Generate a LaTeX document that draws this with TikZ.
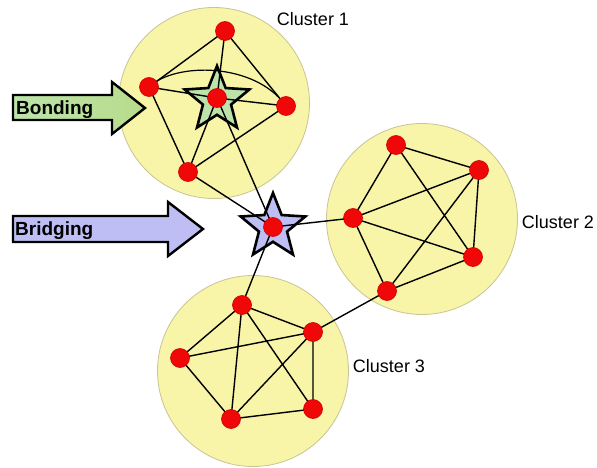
\documentclass[tikz,border=0pt]{standalone}
\usepackage{fontspec}
\setmainfont{Liberation Sans}
\usetikzlibrary{shapes.geometric}
\definecolor{clfill}{RGB}{248,244,168}
\definecolor{cldraw}{RGB}{200,196,150}
\definecolor{dotred}{RGB}{240,8,8}
\definecolor{dotedge}{RGB}{205,0,0}
\definecolor{bondgreen}{RGB}{188,228,170}
\definecolor{bondhead}{RGB}{184,220,140}
\definecolor{bridgeblue}{RGB}{190,190,245}
\begin{document}
\begin{tikzpicture}[x=1pt,y=-1pt,
  cluster/.style={circle, fill=clfill, draw=cldraw, line width=0.8pt, minimum size=191pt, inner sep=0pt},
  dot/.style={circle, fill=dotred, draw=dotedge, line width=0.6pt, minimum size=19pt, inner sep=0pt},
  edge/.style={line width=1.4pt, draw=black},
  starbox/.style={star, star points=5, star point ratio=2.3, minimum size=68pt, inner sep=0pt, line width=2.6pt, draw=black},
  lbl/.style={font=\fontsize{18}{18}\selectfont, inner sep=0pt},
  arrowlbl/.style={font=\fontsize{19}{19}\selectfont\bfseries, inner sep=0pt, anchor=base west},
  bigarrow/.style={line width=2.4pt, draw=black, line join=miter}]
\useasboundingbox (0,0) rectangle (597,468);

% cluster discs
\node[cluster] (k1) at (214,103) {};
\node[cluster] (k2) at (422,219) {};
\node[cluster] (k3) at (253,371) {};

% stars
\node[starbox, fill=bondgreen] (s1) at (217,100) {};
\node[starbox, fill=bridgeblue] (s2) at (273,227) {};

% big arrows
\path[bigarrow, left color=bondgreen, right color=bondhead]
  (13,95) -- (112,95) -- (112,82) -- (145,108) -- (112,134) -- (112,120) -- (13,120) -- cycle;
\path[bigarrow, fill=bridgeblue]
  (13,216) -- (168,216) -- (168,202) -- (203,229) -- (168,256) -- (168,242) -- (13,242) -- cycle;
\node[arrowlbl] (tbond) at (16,115) {Bonding};
\node[arrowlbl] (tbridge) at (15,235) {Bridging};

% dot coordinates
\coordinate (a1) at (225,31);
\coordinate (b1) at (149,87);
\coordinate (c1) at (217,98);
\coordinate (d1) at (286,106);
\coordinate (e1) at (188,172);
\coordinate (br) at (273,227);
\coordinate (a2) at (396,145);
\coordinate (b2) at (479,170);
\coordinate (c2) at (353,218);
\coordinate (d2) at (473,257);
\coordinate (e2) at (387,291);
\coordinate (a3) at (242,305);
\coordinate (b3) at (313,332);
\coordinate (c3) at (180,358);
\coordinate (d3) at (231,419);
\coordinate (e3) at (313,409);

% edges
\draw[edge] (a1) -- (b1) (a1) -- (c1) (a1) -- (d1) (b1) -- (c1) (c1) -- (d1)
            (b1) -- (e1) (c1) -- (e1) (d1) -- (e1);
\draw[edge, line width=1.2pt] (b1) .. controls (175,62) and (255,62) .. (d1);
\draw[edge] (c1) -- (br) (e1) -- (br) (br) -- (c2) (br) -- (a3) (e2) -- (b3);
\draw[edge] (a2) -- (b2) (a2) -- (c2) (a2) -- (d2) (b2) -- (c2) (b2) -- (d2)
            (b2) -- (e2) (c2) -- (d2) (c2) -- (e2) (d2) -- (e2);
\draw[edge] (a3) -- (b3) (a3) -- (c3) (a3) -- (d3) (a3) -- (e3) (b3) -- (c3)
            (b3) -- (d3) (b3) -- (e3) (c3) -- (d3) (d3) -- (e3);

% dots
\foreach \n in {a1,b1,c1,d1,e1,br,a2,b2,c2,d2,e2,a3,b3,c3,d3,e3}
  \node[dot] (n\n) at (\n) {};

% labels
\node[lbl] (l1) at (313,19) {Cluster 1};
\node[lbl] (l2) at (558,222) {Cluster 2};
\node[lbl] (l3) at (389,366) {Cluster 3};
\end{tikzpicture}
\end{document}
